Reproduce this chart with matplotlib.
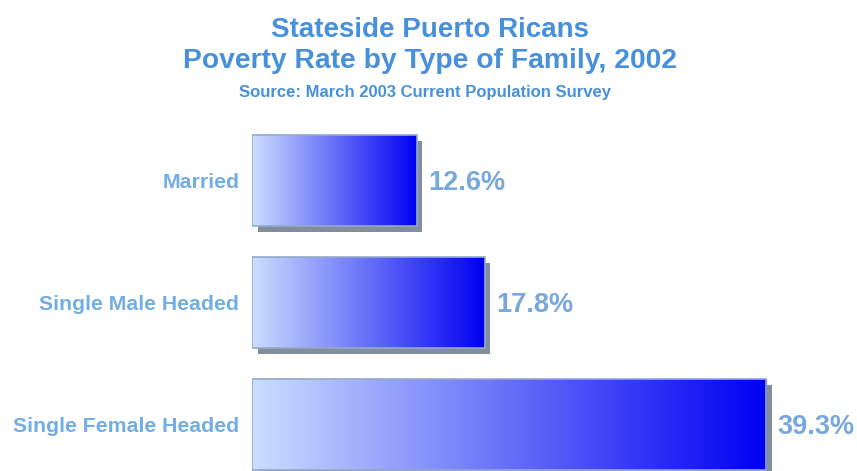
import numpy as np
import matplotlib
matplotlib.use("Agg")
import matplotlib.pyplot as plt
import matplotlib.patheffects as pe

plt.rcParams['font.family'] = ['Liberation Sans', 'DejaVu Sans']

# Poverty rate (%) by type of family
categories = ["Married", "Single Male Headed", "Single Female Headed"]
rates = [12.6, 17.8, 39.3]

title_color = '#4790dc'
label_color = '#72ade4'
value_color = '#78a8dc'

W, H = 857, 471
fig = plt.figure(figsize=(W / 100, H / 100), dpi=100)
fig.patch.set_facecolor('white')

# axes placed so that 0% sits at the bars' left edge
ax_left, ax_top = 252, 118
ax = fig.add_axes([ax_left / W, 0, (W - ax_left) / W, (H - ax_top) / H])
px_per_pct = 13.08
pitch = 122
ax.set_xlim(0, (W - ax_left) / px_per_pct)
ax.set_ylim((H - 180.5) / pitch, (ax_top - 180.5) / pitch)
ax.axis('off')

y = np.arange(len(categories))
bar_h = 91 / pitch

shadow = [pe.SimplePatchShadow(offset=(4.0, -4.0), shadow_rgbFace='#838e9c', alpha=1.0),
          pe.Normal()]
bars = ax.barh(y, rates, height=bar_h, color='white', edgecolor='none',
               zorder=1, path_effects=shadow)

# horizontal gradient fill: pale blue on the left to saturated blue on the right
grad = np.linspace(0, 1, 256)
c0 = np.array([0.80, 0.87, 1.00])
c1 = np.array([0.00, 0.00, 0.95])
rgb = c0[None, :] * (1 - grad[:, None]) + c1[None, :] * grad[:, None]
img = rgb[None, :, :]
for b in bars:
    x0, y0 = b.get_x(), b.get_y()
    w, h = b.get_width(), b.get_height()
    im = ax.imshow(img, extent=(x0, x0 + w, y0 + h, y0), aspect='auto',
                   interpolation='bilinear', zorder=2)
    im.set_clip_path(b)

ax.barh(y, rates, height=bar_h, fill=False, edgecolor='#94a9c8', linewidth=1.2, zorder=3)

for b, r in zip(bars, rates):
    ax.annotate(f'{r:.1f}%', xy=(b.get_width(), b.get_y() + b.get_height() / 2),
                xytext=(8, -2), textcoords='offset points', ha='left', va='center',
                fontsize=19.5, fontweight='bold', color=value_color,
                annotation_clip=False)

for yi, cat in zip(y, categories):
    ax.annotate(cat, xy=(0, yi), xytext=(-9, -1.5), textcoords='offset points',
                ha='right', va='center', fontsize=15.3, fontweight='bold',
                color=label_color, annotation_clip=False)

cx = 430 / W
fig.text(cx, 1 - 37 / H, "Stateside Puerto Ricans", ha='center', va='baseline',
         fontsize=20, fontweight='bold', color=title_color)
fig.text(cx, 1 - 68 / H, "Poverty Rate by Type of Family, 2002", ha='center',
         va='baseline', fontsize=20.3, fontweight='bold', color=title_color)
fig.text(cx - 5 / W, 1 - 97 / H, "Source: March 2003 Current Population Survey",
         ha='center', va='baseline', fontsize=12, fontweight='bold', color=title_color)

fig.savefig('out.png', dpi=100, facecolor='white')
